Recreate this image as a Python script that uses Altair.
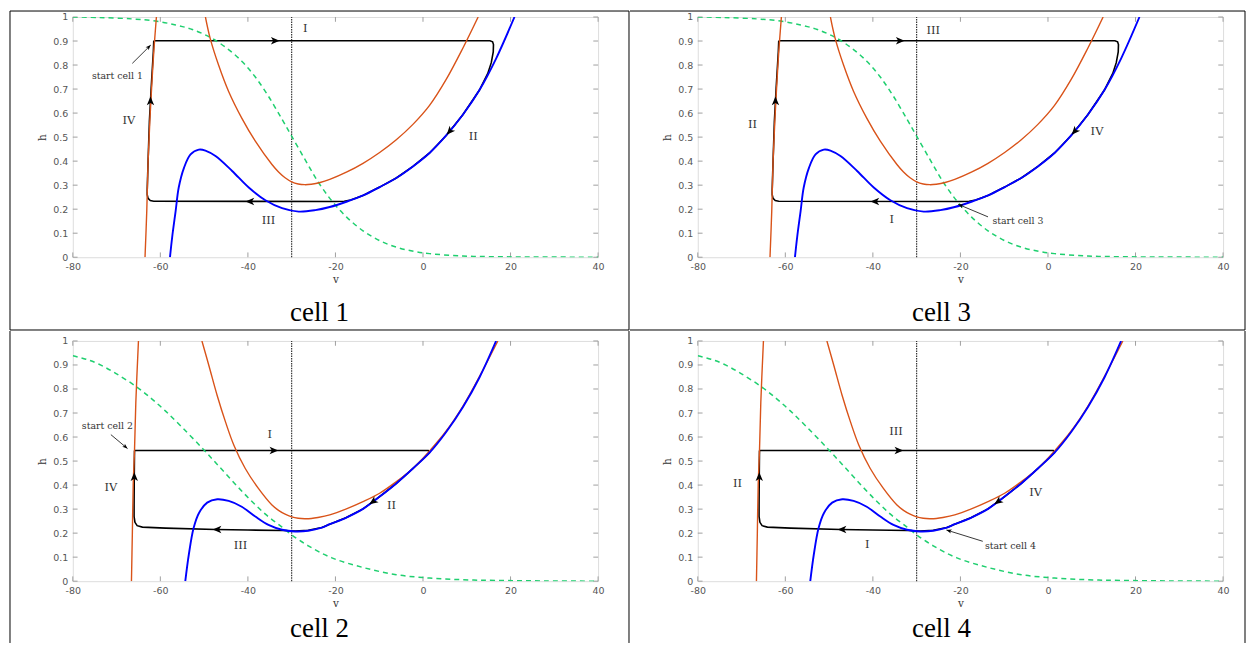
import altair as alt
import pandas as pd

# ---------------- data ----------------
XTICKS = [-80, -60, -40, -20, 0, 20, 40]
YTICKS = [0, 0.1, 0.2, 0.3, 0.4, 0.5, 0.6, 0.7, 0.8, 0.9, 1]
XDOM = [-80, 40]
YDOM = [0, 1]
V_MARK = -30

# cells 1 and 3 share nullclines and orbit
A_GREEN_V = [-80, -74, -66.4, -61.1, -56.5, -52.7, -48.6, -45.1, -41.4, -38.3, -35.3, -32.2, -30.2,
             -26.9, -23.9, -20.8, -17.5, -13.7, -9.9, -6.1, -2.0, 1.5, 9.1, 16.7, 25, 40]
A_GREEN_H = [1.0, 0.998, 0.992, 0.983, 0.967, 0.948, 0.915, 0.874, 0.816, 0.75, 0.67, 0.574, 0.51,
             0.405, 0.312, 0.234, 0.168, 0.11, 0.069, 0.042, 0.024, 0.015, 0.005, 0.002, 0.001, 0.0]
A_ORANGE_L_V = [-63.5, -63.1, -62.8, -62.4, -62.0, -61.5, -60.9]
A_ORANGE_L_H = [0.0, 0.193, 0.4, 0.566, 0.703, 0.855, 1.0]
A_ORANGE_R_V = [-49.7, -48.6, -46.7, -44.4, -41.4, -38.3, -34.5, -33.0, -31.5, -30.0, -28.5, -27.0,
                -25.5, -23.5, -21.3, -17.5, -13.7, -9.9, -6.1, -2.3, 1.5, 5.3, 9.1, 12.6]
A_ORANGE_R_H = [1.0, 0.91, 0.80, 0.69, 0.579, 0.483, 0.386, 0.355, 0.331, 0.314, 0.305, 0.302,
                0.304, 0.311, 0.324, 0.354, 0.391, 0.436, 0.489, 0.553, 0.632, 0.74, 0.87, 1.0]
A_BLUE_V = [-57.8, -57.3, -56.5, -55.8, -54.6, -53.1, -51.2, -49.7, -47.4, -43.6, -39.8, -36.0, -32.2,
            -28.4, -24.6, -21.3, -17.5, -13.7, -9.9, -6.1, -2.3, 1.5, 5.3, 9.1, 12.9, 16.7, 20.9]
A_BLUE_H = [0.0, 0.083, 0.193, 0.29, 0.372, 0.428, 0.448, 0.444, 0.421, 0.359, 0.29, 0.237, 0.204,
            0.19, 0.196, 0.209, 0.231, 0.257, 0.292, 0.330, 0.378, 0.434, 0.507, 0.593, 0.696, 0.827, 1.0]
A_ORBIT_V = [-61.5, 15.3, 15.9, 16.1, 16.05, 15.6, 14.8, 13.6, 12.9, 9.1, 5.3, 1.5, -2.3, -6.1, -9.9,
             -13.7, -16.5, -18.0, -20.0, -61.5, -62.3, -62.8, -63.0, -63.0, -62.8, -62.5, -62.1, -61.6, -61.5]
A_ORBIT_H = [0.901, 0.901, 0.897, 0.885, 0.855, 0.81, 0.765, 0.722, 0.696, 0.593, 0.507, 0.434, 0.378,
             0.33, 0.292, 0.257, 0.238, 0.233, 0.232, 0.233, 0.236, 0.245, 0.26, 0.28, 0.4, 0.566, 0.703,
             0.855, 0.901]
A_HEAD_V = [-33.8, 6.1, -39.5, -62.25]
A_HEAD_H = [0.901, 0.524, 0.232, 0.65]
A_HEAD_ANGLE = [90, 221, 270, 0]

# cells 2 and 4 share nullclines and orbit
B_GREEN_V = [-80, -77.0, -74.0, -70.2, -65.5, -61.9, -58.8, -55.0, -50.5, -47.4, -43.6, -39.8, -36.0,
             -32.2, -30.1, -26.2, -20.8, -13.7, -6.1, 1.5, 9.1, 16.7, 28, 40]
B_GREEN_H = [0.938, 0.924, 0.903, 0.865, 0.81, 0.758, 0.708, 0.64, 0.555, 0.494, 0.418, 0.345, 0.279,
             0.225, 0.194, 0.147, 0.097, 0.057, 0.027, 0.013, 0.006, 0.003, 0.001, 0.0]
B_ORANGE_L_V = [-66.6, -66.4, -66.2, -65.9, -65.6, -65.0]
B_ORANGE_L_H = [0.0, 0.193, 0.4, 0.545, 0.745, 1.0]
B_ORANGE_R_V = [-50.5, -48.9, -47.0, -45.1, -43.2, -40.6, -37.6, -34.5, -33.0, -31.5, -30.0, -28.5,
                -27.0, -25.5, -24.0, -21.3, -17.5, -13.7, -9.9, -6.1, -2.3, 1.5, 5.3, 9.1, 12.9, 17.1]
B_ORANGE_R_H = [1.0, 0.897, 0.772, 0.662, 0.566, 0.469, 0.386, 0.317, 0.295, 0.279, 0.268, 0.262,
                0.26, 0.261, 0.265, 0.276, 0.301, 0.331, 0.366, 0.414, 0.469, 0.542, 0.625, 0.728,
                0.852, 1.0]
B_BLUE_V = [-54.3, -53.5, -52.4, -51.2, -49.3, -47.0, -44.4, -41.4, -38.3, -35.3, -32.2, -29.2, -26.2,
            -23.1, -21.3, -17.5, -13.7, -9.9, -6.1, -2.3, 1.5, 5.3, 9.1, 12.9, 16.7]
B_BLUE_H = [0.0, 0.11, 0.221, 0.283, 0.327, 0.341, 0.334, 0.31, 0.269, 0.234, 0.214, 0.207, 0.21,
            0.223, 0.237, 0.265, 0.301, 0.352, 0.407, 0.469, 0.535, 0.621, 0.724, 0.848, 1.0]
B_ORBIT_V = [-65.9, 1.2, 1.5, -2.3, -6.1, -9.9, -13.7, -17.5, -21.3, -23.1, -26.2, -29.2, -32.0, -40.0,
             -47.4, -58.8, -64.1, -65.3, -65.8, -66.0, -66.0, -65.95, -65.9]
B_ORBIT_H = [0.544, 0.544, 0.535, 0.469, 0.407, 0.352, 0.301, 0.265, 0.237, 0.223, 0.212, 0.209, 0.211,
             0.213, 0.215, 0.221, 0.225, 0.231, 0.245, 0.27, 0.32, 0.45, 0.544]
B_HEAD_V = [-34.1, -11.4, -47.0, -65.95]
B_HEAD_H = [0.544, 0.331, 0.215, 0.434]
B_HEAD_ANGLE = [90, 234, 270, 0]

# phase labels
C1_LAB_T = ["I", "II", "III", "IV"]
C1_LAB_V = [-26.9, 11.5, -35.3, -67.2]
C1_LAB_H = [0.952, 0.499, 0.152, 0.566]
C3_LAB_T = ["III", "IV", "I", "II"]
C3_LAB_V = [-26.2, 11.2, -35.7, -67.5]
C3_LAB_H = [0.941, 0.52, 0.154, 0.551]
C2_LAB_T = ["I", "II", "III", "IV"]
C2_LAB_V = [-35.0, -7.2, -41.7, -71.3]
C2_LAB_H = [0.607, 0.313, 0.145, 0.386]
C4_LAB_T = ["III", "IV", "I", "II"]
C4_LAB_V = [-34.7, -2.8, -41.3, -70.9]
C4_LAB_H = [0.619, 0.368, 0.152, 0.404]

# start annotations: text, text v/h, tail v/h, tip v/h, arrow angle
C1_START = ["start cell 1", -69.8, 0.754, -66.4, 0.807, -62.2, 0.883, 45]
C3_START = ["start cell 3", -12.7, 0.151, -13.7, 0.168, -20.5, 0.22, 293]
C2_START = ["start cell 2", -72.1, 0.648, -71.3, 0.61, -67.5, 0.552, 130]
C4_START = ["start cell 4", -14.4, 0.148, -14.9, 0.166, -23.2, 0.213, 287]

# ---------------- styling ----------------
ORANGE = "#D95319"
BLUE = "#0000FF"
GREEN = "#1FCF6F"
PLOT_W, PLOT_H = 527, 241
HEAD = "M0,-1L0.8,0.9L0,0.4L-0.8,0.9Z"
TIP_HEAD = "M0,0L0.75,1.9L0,1.4L-0.75,1.9Z"

XS = alt.Scale(domain=XDOM, nice=False, zero=False)
YS = alt.Scale(domain=YDOM, nice=False, zero=False)
AX = dict(ticks=False, domain=False, grid=False, labelFlush=False, labelOverlap=False,
          labelFont="DejaVu Sans", labelFontSize=9.5, labelColor="#555555",
          titleFont="DejaVu Serif", titleFontSize=10.5, titleFontWeight="normal",
          titleColor="#333333", labelExpr="'' + datum.value")
XAX = alt.Axis(values=XTICKS, title="v", labelPadding=4, titlePadding=4, **AX)
YAX = alt.Axis(values=YTICKS, title="h", labelPadding=5, titlePadding=5, **AX)


def X(f="v"):
    return alt.X(f"{f}:Q", scale=XS, axis=XAX)


def Y(f="h"):
    return alt.Y(f"{f}:Q", scale=YS, axis=YAX)


def curve(vs, hs, color, width=1.5, dash=None, interp="catmull-rom"):
    d = pd.DataFrame({"v": vs, "h": hs, "o": list(range(len(vs)))})
    kw = dict(color=color, strokeWidth=width, clip=True, interpolate=interp)
    if dash:
        kw["strokeDash"] = dash
    return alt.Chart(d).mark_line(**kw).encode(x=X(), y=Y(), order="o:Q")


def tick_layer():
    lx = (XDOM[1] - XDOM[0]) * 4.8 / PLOT_W
    ly = (YDOM[1] - YDOM[0]) * 4.8 / PLOT_H
    rows = []
    for t in XTICKS:
        rows.append((t, YDOM[0], t, YDOM[0] + ly))
        rows.append((t, YDOM[1], t, YDOM[1] - ly))
    for t in YTICKS:
        rows.append((XDOM[0], t, XDOM[0] + lx, t))
        rows.append((XDOM[1], t, XDOM[1] - lx, t))
    d = pd.DataFrame(rows, columns=["v", "h", "v2", "h2"])
    return alt.Chart(d).mark_rule(color="#a0a0a0", strokeWidth=1).encode(
        x=X(), y=Y(), x2="v2:Q", y2="h2:Q")


def vline():
    d = pd.DataFrame({"v": [V_MARK], "h": [YDOM[0]], "h2": [YDOM[1]]})
    return alt.Chart(d).mark_rule(color="#222222", strokeWidth=1.1, strokeDash=[1.5, 1]).encode(
        x=X(), y=Y(), y2="h2:Q")


def heads(vs, hs, angles, path, size):
    d = pd.DataFrame({"v": vs, "h": hs, "a": angles})
    return alt.Chart(d).mark_point(shape=path, filled=True, color="black", size=size,
                                   opacity=1, strokeWidth=0).encode(
        x=X(), y=Y(), angle=alt.Angle("a:Q", scale=None))


def labels(ts, vs, hs):
    d = pd.DataFrame({"t": ts, "v": vs, "h": hs})
    return alt.Chart(d).mark_text(font="DejaVu Serif", fontSize=11.5, color="#333333",
                                  baseline="middle").encode(x=X(), y=Y(), text="t:N")


def start_layers(s, align):
    text, tv, th, av, ah, bv, bh, ang = s
    arrow = alt.Chart(pd.DataFrame({"v": [av], "h": [ah], "v2": [bv], "h2": [bh]})).mark_rule(
        color="#222222", strokeWidth=0.9).encode(x=X(), y=Y(), x2="v2:Q", y2="h2:Q")
    head = heads([bv], [bh], [ang], TIP_HEAD, 30)
    lab = alt.Chart(pd.DataFrame({"t": [text], "v": [tv], "h": [th]})).mark_text(
        font="DejaVu Serif", fontSize=9.4, color="#333333", align=align, baseline="middle").encode(
        x=X(), y=Y(), text="t:N")
    return [arrow, head, lab]


def frame_layers(box, lines):
    base = alt.Chart(pd.DataFrame({"k": [0]}))
    L, T, R, B = box
    out = [base.mark_rule(opacity=0, strokeWidth=0).encode(
        x=alt.value(L), y=alt.value(T), x2=alt.value(R), y2=alt.value(B))]
    for (x1, y1, x2, y2) in lines:
        out.append(base.mark_rule(color="black", strokeWidth=1).encode(
            x=alt.value(x1), y=alt.value(y1), x2=alt.value(x2), y2=alt.value(y2)))
    return out


def panel(group, lab, start, align, caption, box, lines, offset, dx):
    if group == "A":
        g = (A_GREEN_V, A_GREEN_H, A_ORANGE_L_V, A_ORANGE_L_H, A_ORANGE_R_V, A_ORANGE_R_H,
             A_BLUE_V, A_BLUE_H, A_ORBIT_V, A_ORBIT_H, A_HEAD_V, A_HEAD_H, A_HEAD_ANGLE)
    else:
        g = (B_GREEN_V, B_GREEN_H, B_ORANGE_L_V, B_ORANGE_L_H, B_ORANGE_R_V, B_ORANGE_R_H,
             B_BLUE_V, B_BLUE_H, B_ORBIT_V, B_ORBIT_H, B_HEAD_V, B_HEAD_H, B_HEAD_ANGLE)
    gv, gh, olv, olh, orv, orh, bv, bh, tv, th, hv, hh, ha = g
    layers = [
        tick_layer(),
        vline(),
        curve(tv, th, "black", width=1.6, interp="linear"),
        curve(gv, gh, GREEN, width=1.5, dash=[5, 4]),
        curve(olv, olh, ORANGE, width=1.4),
        curve(orv, orh, ORANGE, width=1.4),
        curve(bv, bh, BLUE, width=1.9),
        heads(hv, hh, ha, HEAD, 85),
        labels(*lab),
    ] + start_layers(start, align) + frame_layers(box, lines)
    return alt.layer(*layers).properties(
        width=PLOT_W, height=PLOT_H,
        title=alt.Title(caption, orient="bottom", anchor="middle", frame="bounds", offset=offset,
                        dx=dx, font="Liberation Serif", fontSize=27, fontWeight="normal",
                        color="black"))


p1 = panel("A", (C1_LAB_T, C1_LAB_V, C1_LAB_H), C1_START, "center", "cell 1",
           (-64, -7, 559, 315),
           [(-63, -6, 558, -6), (-63, -6, -63, 314), (558, -6, 558, 314), (-63, 314, 558, 314)],
           -31, 0)
p3 = panel("A", (C3_LAB_T, C3_LAB_V, C3_LAB_H), C3_START, "left", "cell 3",
           (-69, -7, 550, 315),
           [(-68, -6, 549, -6), (549, -6, 549, 314), (-68, 314, 549, 314)], -31, 4)
p2 = panel("B", (C2_LAB_T, C2_LAB_V, C2_LAB_H), C2_START, "center", "cell 2",
           (-64, -11, 559, 303),
           [(-63, -10, -63, 303), (558, -10, 558, 303)], -27.5, 0)
p4 = panel("B", (C4_LAB_T, C4_LAB_V, C4_LAB_H), C4_START, "left", "cell 4",
           (-69, -11, 550, 303),
           [(549, -10, 549, 303)], -27.5, 4)

chart = alt.vconcat(
    alt.hconcat(p1, p3, spacing=-3),
    alt.hconcat(p2, p4, spacing=-3),
    spacing=-3,
).properties(padding={"left": 0, "top": 0, "right": 0, "bottom": 0}).configure_view(
    stroke="#a8a8a8", strokeWidth=1).configure(background="white")

chart.save("out.html", embed_options={"renderer": "svg", "actions": False})
